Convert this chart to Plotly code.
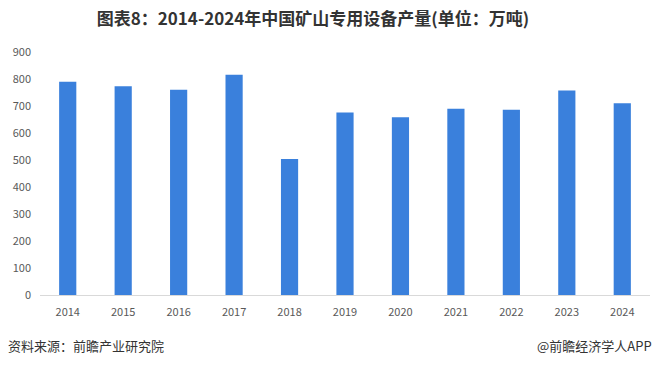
import plotly.graph_objects as go

years = ["2014", "2015", "2016", "2017", "2018", "2019", "2020", "2021", "2022", "2023", "2024"]
output = [790, 773, 760, 816, 504, 676, 658, 690, 686, 757, 710]
y_ticks = [0, 100, 200, 300, 400, 500, 600, 700, 800, 900]

fig = go.Figure()
fig.add_trace(go.Bar(x=years, y=output, marker=dict(color="#3a80dc", line=dict(width=0)), width=0.31))

fig.update_layout(
    width=654, height=366,
    margin=dict(l=40, r=4, t=52, b=71),
    plot_bgcolor="white", paper_bgcolor="white",
    showlegend=False,
    font=dict(family="Noto Sans CJK SC, sans-serif", color="#595959", size=11),
    title=dict(text="<b>图表8：2014-2024年中国矿山专用设备产量(单位：万吨)</b>",
               xref="paper", x=0.4475, xanchor="center",
               yref="container", y=1 - 19 / 366, yanchor="middle",
               font=dict(size=17, color="#333333", family="Noto Sans CJK SC")),
    xaxis=dict(type="category", showline=True, linecolor="#d9d9d9", linewidth=1,
               ticks="", showgrid=False, tickfont=dict(size=11, color="#595959"),
               ticklabelstandoff=7),
    yaxis=dict(range=[0, 900], tickvals=y_ticks, showgrid=False, zeroline=False,
               showline=False, ticks="", tickfont=dict(size=11, color="#595959"),
               ticklabelstandoff=8),
)

fig.add_annotation(text="资料来源：前瞻产业研究院", xref="paper", yref="paper",
                   x=-0.055, y=-50 / 243, xanchor="left", yanchor="middle", showarrow=False,
                   font=dict(size=13, color="#333333"))
fig.add_annotation(text="@前瞻经济学人APP", xref="paper", yref="paper",
                   x=1.006, y=-50 / 243, xanchor="right", yanchor="middle", showarrow=False,
                   font=dict(size=13, color="#333333"))

fig.write_html("out.html", config={"displayModeBar": False},
               post_script="document.body.style.margin='0';document.body.style.overflow='hidden';")
